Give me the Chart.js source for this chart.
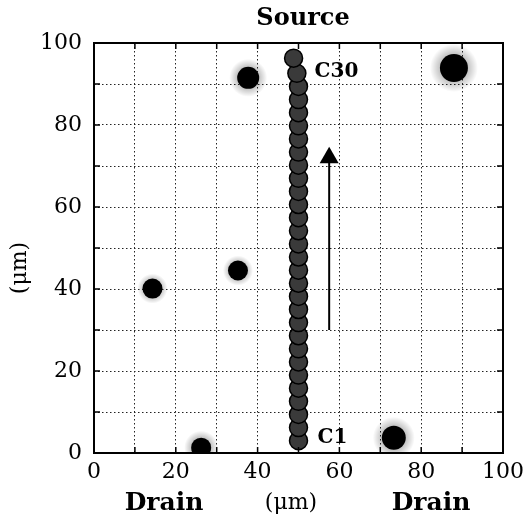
<!DOCTYPE html>
<html>
<head>
<meta charset="utf-8">
<script src="https://cdn.jsdelivr.net/npm/chart.js@4/dist/chart.umd.min.js"></script>
<style>
  html, body { margin: 0; padding: 0; background: #fff; }
  #wrap { width: 531px; height: 522px; }
</style>
</head>
<body>
<div id="wrap"><canvas id="c" width="531" height="522"></canvas></div>
<script>
// chain of cells C1 .. C30 (um)
const cellX = [50, 50, 50, 50, 50, 50, 50, 50, 50, 50,
               50, 50, 50, 50, 50, 50, 50, 50, 50, 50,
               50, 50, 50, 50, 50, 50, 50, 50, 49.6, 48.8];
const cellY = [3.0, 6.2, 9.4, 12.6, 15.8, 19.0, 22.2, 25.4, 28.6, 31.8,
               35.0, 38.2, 41.4, 44.6, 47.8, 51.0, 54.2, 57.4, 60.6, 63.8,
               67.0, 70.2, 73.4, 76.6, 79.8, 83.0, 86.2, 89.4, 92.6, 96.3];

// isolated blobs
const blobX = [37.7, 88.0, 14.3, 35.2, 26.2, 73.3];
const blobY = [91.5, 93.9, 40.1, 44.5, 1.3, 3.7];

// arrow (direction of travel)
const arrowX = [57.5, 57.5];
const arrowY = [30, 72];

const tickValues = [0, 20, 40, 60, 80, 100];

const pts = (xs, ys) => xs.map((x, i) => ({ x: x, y: ys[i] }));

const serif = '"DejaVu Serif", "Liberation Serif", serif';

// soft grey halo around a point
function halo(c, r) {
    const chart = c.chart;
    if (!chart.chartArea || !c.raw) return 'rgba(0,0,0,0.15)';
    const px = chart.scales.x.getPixelForValue(c.raw.x);
    const py = chart.scales.y.getPixelForValue(c.raw.y);
    const g = chart.ctx.createRadialGradient(px, py, 0, px, py, r);
    g.addColorStop(0, 'rgba(0,0,0,0.45)');
    g.addColorStop(0.55, 'rgba(0,0,0,0.25)');
    g.addColorStop(1, 'rgba(0,0,0,0)');
    return g;
}

const haloR = [19, 24, 15, 15, 17, 21];

const decor = {
    id: 'decor',
    afterDraw(chart) {
        const { ctx, chartArea: a, scales: { x, y } } = chart;
        ctx.save();
        // frame
        ctx.strokeStyle = '#000';
        ctx.lineWidth = 2;
        ctx.strokeRect(a.left, a.top, a.right - a.left, a.bottom - a.top);
        // inward ticks
        ctx.lineWidth = 1.5;
        for (let v = 0; v <= 100; v += 10) {
            const px = x.getPixelForValue(v), py = y.getPixelForValue(v);
            ctx.beginPath();
            ctx.moveTo(px, a.bottom); ctx.lineTo(px, a.bottom - 6);
            ctx.moveTo(px, a.top); ctx.lineTo(px, a.top + 6);
            ctx.moveTo(a.left, py); ctx.lineTo(a.left + 6, py);
            ctx.moveTo(a.right, py); ctx.lineTo(a.right - 6, py);
            ctx.stroke();
        }
        ctx.fillStyle = '#000';
        ctx.textBaseline = 'middle';
        // cell labels
        ctx.font = 'bold 20px ' + serif;
        ctx.textAlign = 'left';
        ctx.fillText('C30', x.getPixelForValue(cellX[29]) + 21, y.getPixelForValue(cellY[29]) + 14);
        ctx.fillText('C1', x.getPixelForValue(cellX[0]) + 19, y.getPixelForValue(cellY[0]) - 3);
        // top / bottom labels
        ctx.textAlign = 'center';
        ctx.font = 'bold 24px ' + serif;
        ctx.fillText('Source', 303, 19);
        ctx.font = 'bold 25px ' + serif;
        ctx.fillText('Drain', 164, 503);
        ctx.fillText('Drain', 431, 503);
        ctx.font = '22px ' + serif;
        ctx.fillText('(\u03bcm)', 291, 503);
        // y title
        ctx.translate(20, 268);
        ctx.rotate(-Math.PI / 2);
        ctx.fillText('(\u03bcm)', 0, 0);
        ctx.restore();
    }
};

new Chart(document.getElementById('c'), {
    type: 'scatter',
    data: {
        datasets: [
            {
                // blurred halo around blobs
                data: pts(blobX, blobY),
                pointRadius: haloR,
                backgroundColor: c => halo(c, haloR[c.dataIndex] || 18),
                borderWidth: 0
            },
            {
                data: pts(blobX, blobY),
                pointRadius: [11, 14, 10, 10, 10, 12],
                backgroundColor: '#000',
                borderWidth: 0
            },
            {
                data: pts(cellX, cellY),
                pointRadius: 9,
                backgroundColor: '#3a3a3a',
                borderColor: '#000',
                borderWidth: 1.5
            },
            {
                type: 'line',
                data: pts(arrowX, arrowY),
                borderColor: '#000',
                borderWidth: 2,
                pointRadius: 0,
                showLine: true
            },
            {
                data: [{ x: arrowX[1], y: arrowY[1] }],
                pointStyle: 'triangle',
                pointRadius: 11,
                backgroundColor: '#000',
                borderWidth: 0
            }
        ]
    },
    options: {
        responsive: false,
        animation: false,
        events: [],
        layout: { padding: { top: 43, right: 28, left: 0, bottom: 0 } },
        plugins: { legend: { display: false }, tooltip: { enabled: false } },
        scales: {
            x: {
                min: 0, max: 100,
                afterFit: s => { s.height = 69; },
                afterBuildTicks: s => { s.ticks = [0,10,20,30,40,50,60,70,80,90,100].map(v => ({ value: v })); },
                border: { display: false, dash: [1.5, 2.5] },
                grid: { color: '#222', lineWidth: 1, drawTicks: false },
                ticks: {
                    padding: 6,
                    color: '#000',
                    maxRotation: 0,
                    autoSkip: false,
                    font: { family: serif, size: 22 },
                    callback: v => tickValues.includes(v) ? String(v) : ''
                }
            },
            y: {
                min: 0, max: 100,
                afterFit: s => { s.width = 94; },
                afterBuildTicks: s => { s.ticks = [0,10,20,30,40,50,60,70,80,90,100].map(v => ({ value: v })); },
                border: { display: false, dash: [1.5, 2.5] },
                grid: { color: '#222', lineWidth: 1, drawTicks: false },
                ticks: {
                    padding: 12,
                    color: '#000',
                    autoSkip: false,
                    font: { family: serif, size: 22 },
                    callback: v => tickValues.includes(v) ? String(v) : ''
                }
            }
        }
    },
    plugins: [decor]
});
</script>
</body>
</html>
